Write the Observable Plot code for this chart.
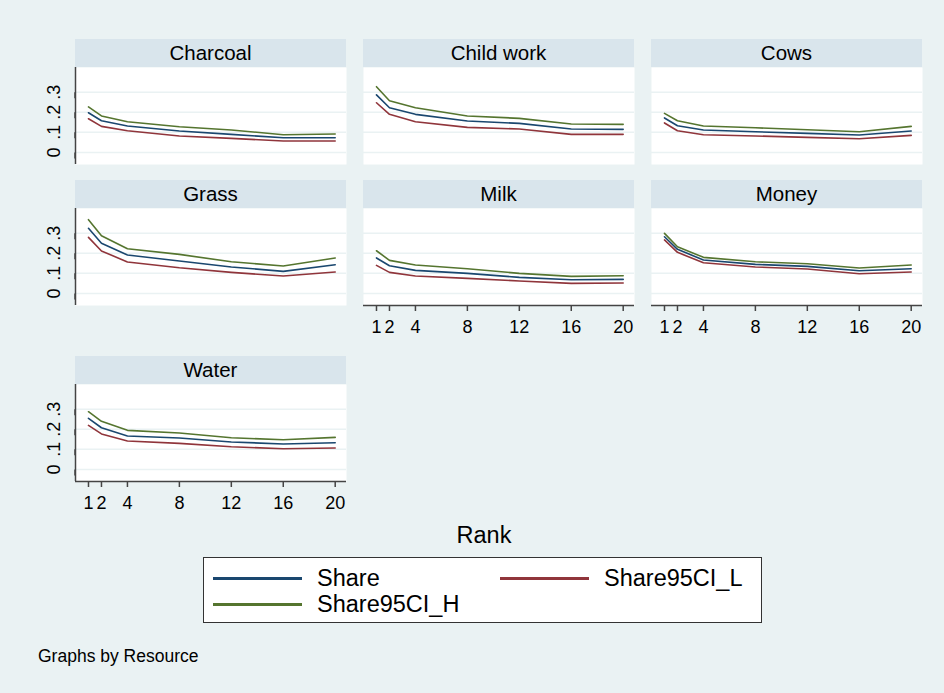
<!DOCTYPE html>
<html>
<head>
<meta charset="utf-8">
<script src="https://cdn.jsdelivr.net/npm/d3@7"></script>
<script src="https://cdn.jsdelivr.net/npm/@observablehq/plot@0.6"></script>
<style>
  html, body { margin: 0; padding: 0; }
  body { width: 944px; height: 693px; background: #eaf2f3; position: relative; overflow: hidden;
         font-family: Arial, "Liberation Sans", Helvetica, sans-serif; color: #000; }
  .hdr { position: absolute; background: #d9e5ec; height: 28px; line-height: 28px; text-align: center; font-size: 20.5px; }
  .panel { position: absolute; }
  .txt { position: absolute; white-space: nowrap; }
  #legend { position: absolute; left: 203px; top: 557px; width: 557px; height: 64px; background: #fff; border: 1.5px solid #333; }
  .lg { position: absolute; height: 2.5px; width: 89px; }
  .lt { position: absolute; font-size: 23.5px; line-height: 26px; }
</style>
</head>
<body>
<script>
// ---- data ----
const resources = ["Charcoal", "Child work", "Cows", "Grass", "Milk", "Money", "Water"];
const ranks = [1, 2, 4, 8, 12, 16, 20];
const seriesNames = ["Share", "Share95CI_L", "Share95CI_H"];
const yTicks = [0, 0.1, 0.2, 0.3];

// Share (point estimate), one array per resource, values at ranks above
const share = [
  [0.198, 0.158, 0.132, 0.107, 0.090, 0.073, 0.073], // Charcoal
  [0.287, 0.223, 0.190, 0.157, 0.145, 0.117, 0.115], // Child work
  [0.172, 0.133, 0.112, 0.103, 0.095, 0.087, 0.107], // Cows
  [0.325, 0.250, 0.192, 0.162, 0.132, 0.110, 0.143], // Grass
  [0.177, 0.138, 0.115, 0.100, 0.080, 0.068, 0.070], // Milk
  [0.283, 0.220, 0.167, 0.145, 0.135, 0.113, 0.123], // Money
  [0.255, 0.208, 0.167, 0.157, 0.137, 0.127, 0.133]  // Water
];
// Lower 95% CI
const shareL = [
  [0.168, 0.130, 0.108, 0.082, 0.070, 0.057, 0.057],
  [0.248, 0.190, 0.153, 0.125, 0.117, 0.090, 0.090],
  [0.147, 0.108, 0.088, 0.082, 0.075, 0.068, 0.085],
  [0.280, 0.212, 0.157, 0.128, 0.105, 0.087, 0.107],
  [0.140, 0.105, 0.087, 0.075, 0.062, 0.050, 0.052],
  [0.267, 0.205, 0.153, 0.132, 0.122, 0.098, 0.107],
  [0.220, 0.177, 0.142, 0.130, 0.113, 0.103, 0.107]
];
// Upper 95% CI
const shareH = [
  [0.227, 0.182, 0.153, 0.128, 0.112, 0.088, 0.092],
  [0.328, 0.258, 0.223, 0.182, 0.170, 0.142, 0.140],
  [0.195, 0.158, 0.132, 0.123, 0.113, 0.103, 0.130],
  [0.368, 0.288, 0.223, 0.195, 0.158, 0.137, 0.177],
  [0.213, 0.165, 0.142, 0.123, 0.100, 0.085, 0.088],
  [0.300, 0.233, 0.180, 0.158, 0.148, 0.127, 0.142],
  [0.288, 0.240, 0.195, 0.182, 0.158, 0.148, 0.160]
];

// ---- styling / layout ----
const colors = ["#1a476f", "#90353b", "#55752f"];
const bg = "#eaf2f3";
const colLeft = [75, 363, 651];
const rowTop = [67, 208, 384];
const pw = 271, ph = 97;
const mL = 45, mR = 5, mB = 45;
const xDomain = [0, 20.87];
const yDomain = [-0.0605, 0.424];
const fmtY = d => d === 0 ? "0" : "." + Math.round(d * 10);

resources.forEach((name, i) => {
  const col = i % 3, row = Math.floor(i / 3);
  const showY = col === 0;
  const showX = (i >= 4); // Milk, Money, Water have nothing below
  const rows = [];
  [share, shareL, shareH].forEach((arr, s) => {
    arr[i].forEach((v, k) => rows.push({rank: ranks[k], value: v, series: seriesNames[s]}));
  });

  const hdr = document.createElement("div");
  hdr.className = "hdr";
  hdr.style.left = colLeft[col] + "px";
  hdr.style.top = (rowTop[row] - 28) + "px";
  hdr.style.width = pw + "px";
  hdr.textContent = name;
  document.body.appendChild(hdr);

  const marks = [
    Plot.frame({fill: "#fff", stroke: null}),
    Plot.ruleY(yTicks, {stroke: bg, strokeWidth: 1.5}),
    Plot.line(rows, {x: "rank", y: "value", stroke: "series", z: "series", strokeWidth: 1.6})
  ];
  if (showY) {
    marks.push(Plot.ruleX([xDomain[0]], {stroke: "#444", strokeWidth: 1.5}));
    marks.push(Plot.axisY({ticks: yTicks, tickSize: 6, tickPadding: 15, rotate: -90, label: null,
      textAnchor: "middle", tickFormat: fmtY, fontSize: 18, stroke: "#444", strokeWidth: 1.5, fill: "#000"}));
  }
  if (showX) {
    marks.push(Plot.ruleY([yDomain[0]], {stroke: "#444", strokeWidth: 1.5}));
    marks.push(Plot.axisX({ticks: ranks, tickSize: 6, tickPadding: 9, tickFormat: d => String(d), label: null,
      fontSize: 18, stroke: "#444", strokeWidth: 1.5, fill: "#000"}));
  }

  const chart = Plot.plot({
    width: pw + mL + mR,
    height: ph + mB,
    marginLeft: mL, marginRight: mR, marginTop: 0, marginBottom: mB,
    x: {domain: xDomain, axis: null},
    y: {domain: yDomain, axis: null},
    color: {domain: seriesNames, range: colors},
    style: {background: "transparent", overflow: "visible", fontSize: "18px",
            fontFamily: "Arial, 'Liberation Sans', sans-serif"},
    marks
  });
  const wrap = document.createElement("div");
  wrap.className = "panel";
  wrap.style.left = (colLeft[col] - mL) + "px";
  wrap.style.top = rowTop[row] + "px";
  wrap.appendChild(chart);
  document.body.appendChild(wrap);
});

// axis title
const rank = document.createElement("div");
rank.className = "txt";
rank.style.cssText = "left:484px; top:522px; transform:translateX(-50%); font-size:23.5px;";
rank.textContent = "Rank";
document.body.appendChild(rank);

// legend
const legend = document.createElement("div");
legend.id = "legend";
const items = [
  {name: seriesNames[0], c: colors[0], lx: 9, tx: 113, y: 20},
  {name: seriesNames[1], c: colors[1], lx: 296, tx: 400, y: 20},
  {name: seriesNames[2], c: colors[2], lx: 9, tx: 113, y: 46}
];
items.forEach(it => {
  const l = document.createElement("div");
  l.className = "lg";
  l.style.cssText = `left:${it.lx}px; top:${it.y - 1}px; background:${it.c};`;
  legend.appendChild(l);
  const t = document.createElement("div");
  t.className = "lt";
  t.style.cssText = `left:${it.tx}px; top:${it.y - 13}px;`;
  t.textContent = it.name;
  legend.appendChild(t);
});
document.body.appendChild(legend);

const note = document.createElement("div");
note.className = "txt";
note.style.cssText = "left:38px; top:646px; font-size:17.5px;";
note.textContent = "Graphs by Resource";
document.body.appendChild(note);
</script>
</body>
</html>
